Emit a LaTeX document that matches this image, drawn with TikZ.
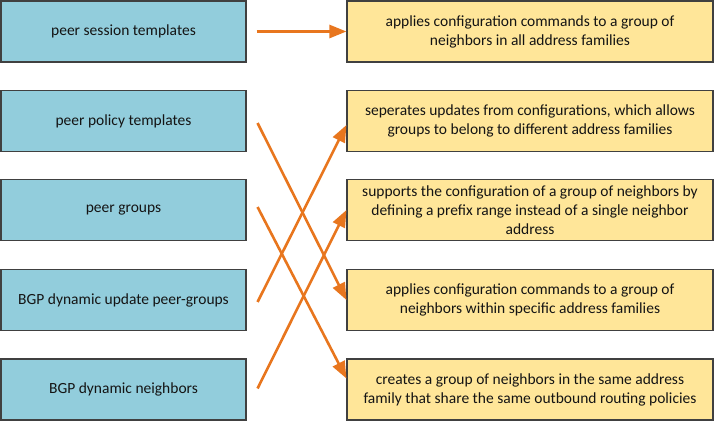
\documentclass[tikz,border=0pt]{standalone}
\usepackage{fontspec}
\setmainfont{Carlito}
\usetikzlibrary{arrows.meta,calc}
\definecolor{boxblue}{HTML}{92CDDC}
\definecolor{boxyellow}{HTML}{FFE699}
\definecolor{edgegray}{HTML}{404040}
\definecolor{arroworange}{HTML}{E8761E}
\definecolor{txt}{HTML}{141414}
\begin{document}
\begin{tikzpicture}[x=1pt,y=-1pt,
  lbox/.style={draw=edgegray,line width=1.1pt,fill=boxblue,minimum width=245pt,minimum height=61pt,inner sep=0pt,align=center,text=txt,font=\fontsize{15.5}{19}\selectfont},
  rbox/.style={draw=edgegray,line width=1.1pt,fill=boxyellow,minimum width=366pt,minimum height=61pt,inner sep=0pt,align=center,text=txt,font=\fontsize{15.5}{19}\selectfont},
  link/.style={draw=arroworange,line width=2.6pt,-{Triangle[length=17pt,width=13pt]}}
]
\useasboundingbox (0,0) rectangle (716,421);
\node[lbox] (L1) at (123.5,31.5) {peer session templates};
\node[lbox] (L2) at (123.5,121) {peer policy templates};
\node[lbox] (L3) at (123.5,210) {peer groups};
\node[lbox] (L4) at (123.5,300) {BGP dynamic update peer-groups};
\node[lbox] (L5) at (123.5,389.5) {BGP dynamic neighbors};
\node[rbox] (R1) at (530,31.5) {applies configuration commands to a group of\\neighbors in all address families};
\node[rbox] (R2) at (530,121) {seperates updates from configurations, which allows\\groups to belong to different address families};
\node[rbox] (R3) at (530,210) {supports the configuration of a group of neighbors by\\defining a prefix range instead of a single neighbor\\address};
\node[rbox] (R4) at (530,300) {applies configuration commands to a group of\\neighbors within specific address families};
\node[rbox] (R5) at (530,389.5) {creates a group of neighbors in the same address\\family that share the same outbound routing policies};
\coordinate (s1) at ($(L1.east)+(10,0)$);
\coordinate (s2) at ($(L2.east)+(11,2)$);
\coordinate (s3) at ($(L3.east)+(11,-3)$);
\coordinate (s4) at ($(L4.east)+(11,2)$);
\coordinate (s5) at ($(L5.east)+(11,-1)$);
\draw[link] (s1) -- (R1.west);
\draw[link] (s2) -- (R4.west);
\draw[link] (s3) -- ($(R5.west)+(0,-11)$);
\draw[link] (s4) -- ($(R2.west)+(0,4)$);
\draw[link] (s5) -- (R3.west);
\end{tikzpicture}
\end{document}
